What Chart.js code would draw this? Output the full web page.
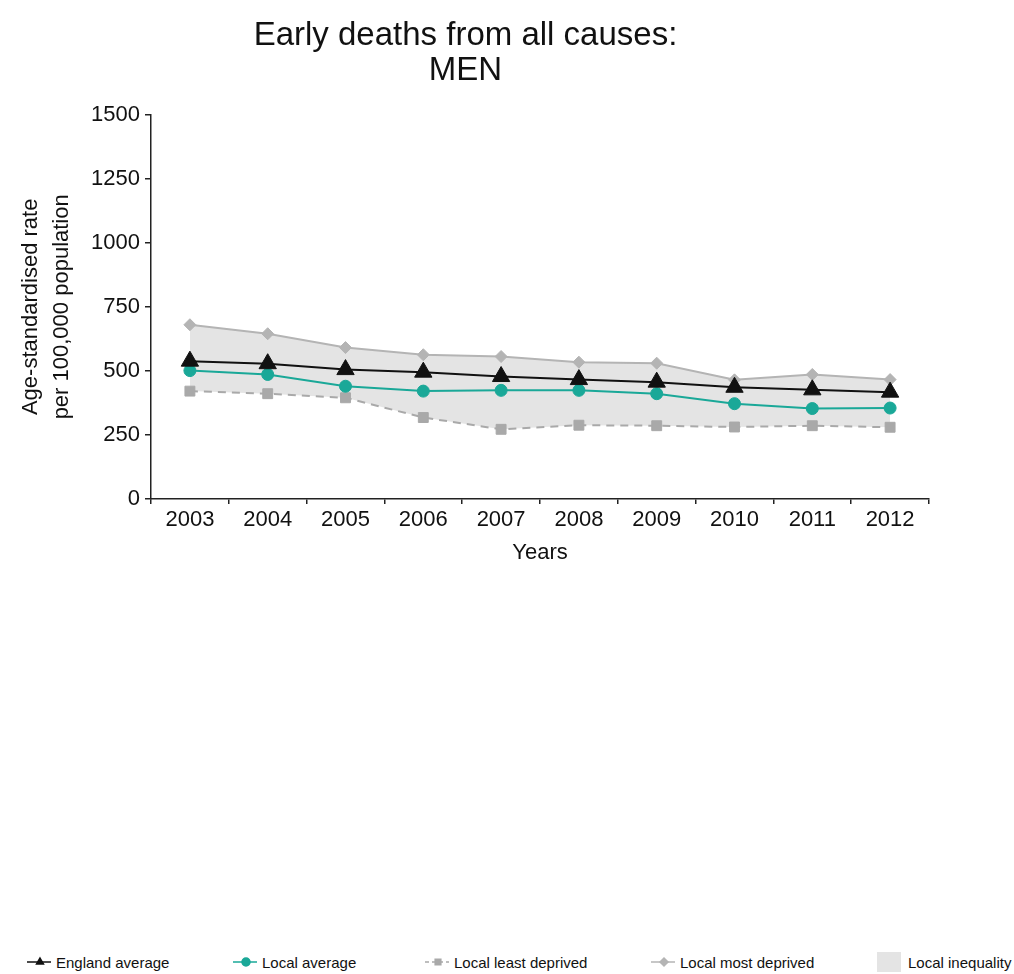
<!DOCTYPE html>
<html>
<head>
<meta charset="utf-8">
<script src="https://cdn.jsdelivr.net/npm/chart.js@4.4.1/dist/chart.umd.min.js"></script>
<style>
  html, body { margin: 0; padding: 0; background: #fff; }
  body { width: 1014px; height: 974px; position: relative; overflow: hidden; }
  #wrap { position: absolute; left: 0; top: 0; width: 940px; height: 580px; }
  #legend { position: absolute; left: 0; top: 950px; width: 1014px; height: 24px;
    font-family: "Liberation Sans Narrow", "Liberation Sans", Arial, sans-serif; font-size: 15px; color: #111; }
  #legend .item { position: absolute; top: 0; height: 24px; display: flex; align-items: center; white-space: nowrap; }
  #legend canvas { margin-right: 4px; }
</style>
</head>
<body>
<div id="wrap"><canvas id="chart"></canvas></div>
<div id="legend"></div>
<script>
// Early deaths from all causes: MEN (rate per 100,000)
const years = ['2003', '2004', '2005', '2006', '2007', '2008', '2009', '2010', '2011', '2012'];
const englandAvg = [538, 528, 505, 495, 478, 466, 456, 436, 426, 417];
const localAvg = [501, 486, 440, 421, 424, 424, 411, 372, 353, 355];
const leastDeprived = [421, 411, 395, 318, 272, 288, 286, 281, 286, 280];
const mostDeprived = [680, 645, 591, 563, 556, 534, 530, 465, 486, 466];
const yTicks = [0, 250, 500, 750, 1000, 1250, 1500];

const FONT = '"Liberation Sans", Arial, sans-serif';
const AXIS = '#222';
const SHADE = '#e4e4e4';

const ctx = document.getElementById('chart');
const chart = new Chart(ctx, {
  type: 'line',
  data: {
    labels: years,
    datasets: [
      { label: 'England average', data: englandAvg, borderColor: '#111', backgroundColor: '#111', borderWidth: 2,
        pointStyle: 'triangle', pointRadius: 10, pointBorderWidth: 1, fill: false },
      { label: 'Local average', data: localAvg, borderColor: '#1aa898', backgroundColor: '#1aa898', borderWidth: 2,
        pointStyle: 'circle', pointRadius: 6, pointBorderWidth: 1, fill: false },
      { label: 'Local most deprived', data: mostDeprived, borderColor: '#b4b4b4', backgroundColor: '#b4b4b4', borderWidth: 2,
        pointStyle: 'rectRot', pointRadius: 6, pointBorderWidth: 1,
        fill: { target: 3, above: SHADE, below: SHADE } },
      { label: 'Local least deprived', data: leastDeprived, borderColor: '#a9a9a9', backgroundColor: '#a9a9a9', borderWidth: 2,
        borderDash: [8, 6], pointStyle: 'rect', pointRadius: 7, pointBorderWidth: 1, fill: false }
    ]
  },
  options: {
    responsive: true,
    maintainAspectRatio: false,
    animation: false,
    layout: { padding: { left: 0, right: 9, top: 0, bottom: 0 } },
    elements: { line: { tension: 0 } },
    plugins: {
      legend: { display: false },
      tooltip: { enabled: false },
      filler: { drawTime: 'beforeDatasetsDraw' },
      title: {
        display: true,
        text: ['Early deaths from all causes:', 'MEN'],
        color: '#111',
        font: { family: FONT, size: 33, weight: 'normal', lineHeight: 1.04 },
        padding: { top: 19, bottom: 27 }
      }
    },
    scales: {
      x: {
        type: 'category',
        offset: true,
        grid: { offset: true, drawOnChartArea: false, drawTicks: true, tickLength: 5, color: AXIS, lineWidth: 1.5 },
        border: { display: true, color: AXIS, width: 1.5 },
        ticks: { color: '#111', font: { family: FONT, size: 22 }, padding: 3, maxRotation: 0, autoSkip: false },
        title: { display: true, text: 'Years', color: '#111', font: { family: FONT, size: 22 }, padding: { top: 0, bottom: 14 } },
        afterFit: s => { s.height = 81; }
      },
      y: {
        min: 0,
        max: 1500,
        afterBuildTicks: s => { s.ticks = yTicks.map(v => ({ value: v })); },
        grid: { drawOnChartArea: false, drawTicks: true, tickLength: 6, color: AXIS, lineWidth: 1.5 },
        border: { display: true, color: AXIS, width: 1.5 },
        ticks: { color: '#111', font: { family: FONT, size: 22 }, padding: 5, callback: v => String(v) },
        title: { display: true, text: ['Age-standardised rate', 'per 100,000 population'], color: '#111',
          font: { family: FONT, size: 22, lineHeight: 1.4 }, padding: { top: 16, bottom: 0 } },
        afterFit: s => { s.width = 151; }
      }
    }
  }
});

// legend along the bottom of the page, markers drawn from the dataset styles
const legendItems = [
  { ds: 0, left: 26 },
  { ds: 1, left: 232 },
  { ds: 3, left: 424 },
  { ds: 2, left: 650 },
  { ds: -1, left: 876, text: 'Local inequality' }
];
const legendEl = document.getElementById('legend');
legendItems.forEach(it => {
  const div = document.createElement('div');
  div.className = 'item';
  div.style.left = it.left + 'px';
  const c = document.createElement('canvas');
  c.width = 26; c.height = 22;
  const g = c.getContext('2d');
  if (it.ds < 0) {
    g.fillStyle = SHADE;
    g.fillRect(1, 1, 24, 20);
    c.style.marginRight = '6px';
  } else {
    const d = chart.data.datasets[it.ds];
    g.strokeStyle = d.borderColor;
    g.lineWidth = 1.5;
    if (d.borderDash) g.setLineDash([4, 3]);
    g.beginPath(); g.moveTo(1, 11); g.lineTo(25, 11); g.stroke();
    g.setLineDash([]);
    g.fillStyle = d.backgroundColor; g.strokeStyle = d.borderColor;
    Chart.helpers.drawPoint(g, { pointStyle: d.pointStyle, radius: 4, borderWidth: 1 }, 14, 11);
  }
  const span = document.createElement('span');
  span.textContent = it.ds < 0 ? it.text : chart.data.datasets[it.ds].label;
  div.appendChild(c);
  div.appendChild(span);
  legendEl.appendChild(div);
});
</script>
</body>
</html>
